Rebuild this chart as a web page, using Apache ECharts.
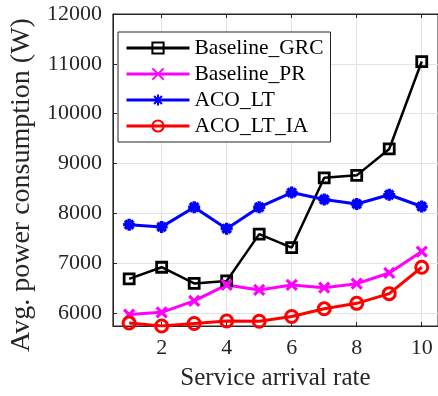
<!DOCTYPE html>
<html>
<head>
<meta charset="utf-8">
<script src="https://cdn.jsdelivr.net/npm/echarts@6/dist/echarts.min.js"></script>
<style>
  html, body { margin: 0; padding: 0; background: #fff; }
  #chart { width: 438px; height: 396px; }
</style>
</head>
<body>
<div id="chart"></div>
<script>
// Service arrival rates on the x axis
const arrivalRates = [1, 2, 3, 4, 5, 6, 7, 8, 9, 10];

// Average power consumption (W) per scheme
const baselineGRC = [6680, 6915, 6590, 6640, 7580, 7310, 8710, 8760, 9290, 11045];
const baselinePR  = [5965, 6010, 6240, 6560, 6460, 6560, 6505, 6585, 6800, 7230];
const acoLT       = [7770, 7725, 8120, 7690, 8120, 8415, 8275, 8185, 8370, 8135];
const acoLTIA     = [5795, 5735, 5785, 5835, 5830, 5925, 6080, 6190, 6385, 6915];

// Tick positions
const xTicks = [2, 4, 6, 8, 10];
const yTicks = [6000, 7000, 8000, 9000, 10000, 11000, 12000];
const xRange = [0.5, 10.5];
const yRange = [5735, 12000];

const serif = 'Liberation Serif, Times New Roman, serif';
const axisColor = '#262626';
const gridColor = '#e3e3e3';

const toPoints = (vals) => vals.map((v, i) => [arrivalRates[i], v]);

const xMarkPath = 'path://M0,0L10,10M10,0L0,10';
const starPath = 'path://M5,0L5,10M0,5L10,5M1.5,1.5L8.5,8.5M8.5,1.5L1.5,8.5';

function lineSeries(name, vals, color, width, symbol, size, border, fill) {
  return {
    name: name,
    type: 'line',
    data: toPoints(vals),
    symbol: symbol,
    symbolSize: size,
    showAllSymbol: true,
    lineStyle: { color: color, width: width },
    itemStyle: { color: fill, borderColor: color, borderWidth: border },
    emphasis: { disabled: true },
    z: 3
  };
}

const chart = echarts.init(document.getElementById('chart'), null, { renderer: 'canvas' });

chart.setOption({
  animation: false,
  backgroundColor: '#fff',
  grid: {
    left: 112, top: 14, width: 329, height: 317,
    show: true, borderColor: axisColor, borderWidth: 1, backgroundColor: 'transparent'
  },
  legend: {
    left: 118, top: 32,
    orient: 'vertical',
    itemWidth: 63, itemHeight: 14, itemGap: 4,
    padding: [5, 7, 5, 7],
    backgroundColor: '#fff',
    borderColor: axisColor, borderWidth: 1, borderRadius: 0,
    lineStyle: { width: 3 },
    textStyle: { fontFamily: serif, fontSize: 21.5, color: '#000', lineHeight: 22 },
    data: ['Baseline_GRC', 'Baseline_PR', 'ACO_LT', 'ACO_LT_IA']
  },
  xAxis: [{
    type: 'value',
    min: xRange[0], max: xRange[1],
    position: 'bottom',
    axisLine: { show: true, lineStyle: { color: axisColor, width: 1 } },
    axisTick: { show: true, inside: true, length: 4, customValues: xTicks, lineStyle: { color: axisColor } },
    axisLabel: { customValues: xTicks, fontFamily: serif, fontSize: 22, color: axisColor, margin: 11 },
    splitLine: { show: true, customValues: xTicks, lineStyle: { color: gridColor, width: 1 } },
    name: 'Service arrival rate',
    nameLocation: 'middle',
    nameGap: 40,
    nameTextStyle: { fontFamily: serif, fontSize: 25, color: axisColor }
  }, {
    type: 'value',
    min: xRange[0], max: xRange[1],
    position: 'top',
    axisLine: { show: true, lineStyle: { color: axisColor, width: 1 } },
    axisTick: { show: true, inside: true, length: 4, customValues: xTicks, lineStyle: { color: axisColor } },
    axisLabel: { show: false },
    splitLine: { show: false }
  }],
  yAxis: {
    type: 'value',
    min: yRange[0], max: yRange[1],
    axisLine: { show: true, lineStyle: { color: axisColor, width: 1 } },
    axisTick: { show: true, inside: true, length: 4, customValues: yTicks, lineStyle: { color: axisColor } },
    axisLabel: {
      customValues: yTicks, fontFamily: serif, fontSize: 22, color: axisColor, margin: 11,
      formatter: (v) => String(v)
    },
    splitLine: { show: true, customValues: yTicks, lineStyle: { color: gridColor, width: 1 } },
    name: 'Avg. power consumption (W)',
    nameLocation: 'middle',
    nameGap: 76,
    nameTextStyle: { fontFamily: serif, fontSize: 28, color: axisColor, padding: [0, 30, 0, 0] }
  },
  series: [
    lineSeries('Baseline_GRC', baselineGRC, '#000000', 2.5, 'rect', 10, 2.8, 'rgba(255,255,255,0)'),
    lineSeries('Baseline_PR', baselinePR, '#ff00ff', 3, xMarkPath, 10, 3.2, '#ff00ff'),
    lineSeries('ACO_LT', acoLT, '#0000ff', 3, starPath, 12, 3.4, '#0000ff'),
    lineSeries('ACO_LT_IA', acoLTIA, '#ff0000', 3, 'circle', 12, 3, 'rgba(255,255,255,0)')
  ]
});
</script>
</body>
</html>
